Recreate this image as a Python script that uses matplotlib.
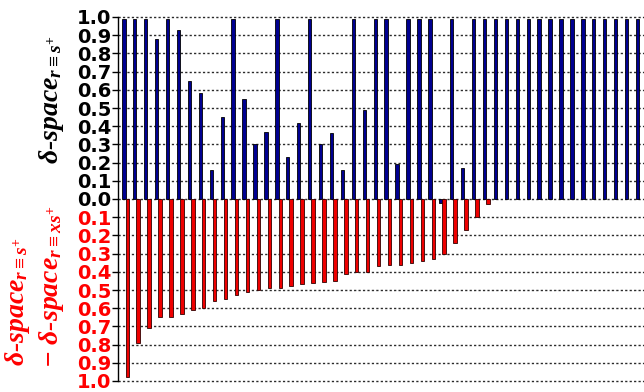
import numpy as np
import matplotlib.pyplot as plt

plt.rcParams['mathtext.fontset'] = 'custom'
plt.rcParams['mathtext.it'] = 'Liberation Serif:italic:bold'
plt.rcParams['mathtext.rm'] = 'Liberation Serif:bold'

# delta-space for r = s+ (upper bars)
space_s = [0.99, 0.99, 0.99, 0.88, 0.99, 0.93, 0.65, 0.58, 0.16, 0.45,
           0.99, 0.55, 0.30, 0.37, 0.99, 0.23, 0.42, 0.99, 0.30, 0.36,
           0.16, 0.99, 0.49, 0.99, 0.99, 0.19, 0.99, 0.99, 0.99, -0.02,
           0.99, 0.17, 0.99, 0.99, 0.99, 0.99, 0.99, 0.99, 0.99, 0.99,
           0.99, 0.99, 0.99, 0.99, 0.99, 0.99, 0.99, 0.99]

# difference delta-space(r = s+) - delta-space(r = xs+) (lower bars, drawn downwards)
space_diff = [0.98, 0.79, 0.71, 0.65, 0.65, 0.63, 0.61, 0.60, 0.56, 0.55,
              0.53, 0.51, 0.50, 0.49, 0.49, 0.48, 0.465, 0.46, 0.455, 0.45,
              0.41, 0.40, 0.40, 0.37, 0.36, 0.36, 0.35, 0.34, 0.33, 0.30,
              0.24, 0.17, 0.10, 0.03, 0, 0, 0, 0, 0, 0,
              0, 0, 0, 0, 0, 0, 0, 0]

ticks = np.round(np.arange(-1.0, 1.01, 0.1), 1)
tick_labels = ['%.1f' % abs(t) for t in ticks]

x = np.arange(len(space_s))
w = 0.31
diff = np.array(space_diff)
keep = diff > 0

fig = plt.figure(figsize=(6.44, 3.92), dpi=100)
ax = fig.add_axes([118 / 644, 11 / 392, 526 / 644, 364 / 392])

# dotted grid at every 0.1
for t in ticks:
    ax.axhline(t, color='#2a2a2a', lw=1.0, ls=(0, (1.6, 1.6)), zorder=0, clip_on=False)

ax.bar(x - w / 2, space_s, width=w, color='#000090', edgecolor='black', lw=0.6, zorder=3)
ax.bar(x[keep] + w / 2, -diff[keep], width=w, color='#ee0000', edgecolor='#300000',
       lw=0.6, zorder=3)

ax.set_xlim(-0.69, 47.44)
ax.set_ylim(-1.0, 1.0)
ax.set_xticks([])
ax.set_yticks(ticks)
ax.set_yticklabels(tick_labels, fontsize=14, fontweight='bold', family='DejaVu Sans')
for lab, t in zip(ax.get_yticklabels(), ticks):
    lab.set_color('red' if t < 0 else 'black')
ax.tick_params(axis='y', length=4, width=1, pad=1)

for side in ['top', 'right', 'bottom']:
    ax.spines[side].set_visible(False)
ax.spines['left'].set_linewidth(1.0)

# axis titles
title_kw = dict(rotation=90, ha='center', va='bottom', fontsize=20,
                family='Liberation Serif', style='italic', fontweight='bold')
fig.text(51 / 644, 1 - 164 / 392, r'δ-space$_{r\equiv s^{+}}$', color='black', **title_kw)
fig.text(18 / 644, 1 - 366 / 392, r'δ-space$_{r\equiv s^{+}}$', color='red', **title_kw)
fig.text(52 / 644, 1 - 368 / 392, '\u2212 ' + r'δ-space$_{r\equiv xs^{+}}$', color='red',
         **title_kw)

plt.savefig('out.png', dpi=100)
